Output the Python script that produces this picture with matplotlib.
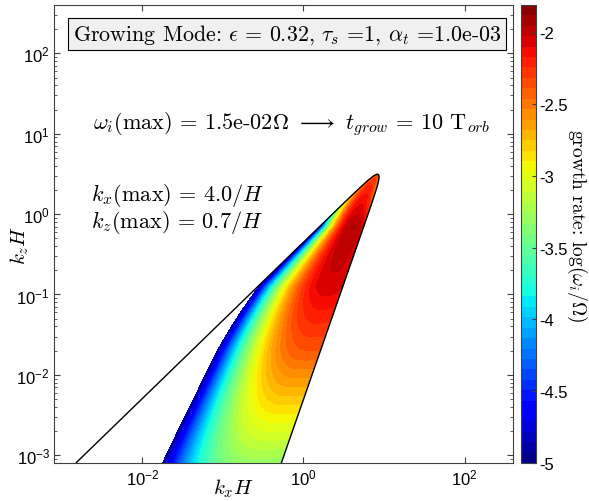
import numpy as np
import matplotlib
matplotlib.use("Agg")
import matplotlib.pyplot as plt
import matplotlib.ticker as mticker

plt.rcParams['font.family'] = ['Liberation Sans', 'DejaVu Sans']
plt.rcParams['mathtext.fontset'] = 'custom'
plt.rcParams['mathtext.rm'] = 'Liberation Sans'
plt.rcParams['mathtext.it'] = 'Liberation Sans:italic'
plt.rcParams['mathtext.bf'] = 'Liberation Sans:bold'
plt.rcParams['axes.unicode_minus'] = True

# run parameters written on the figure
eps = 0.32
tau_s = 1
alpha_t = 1.0e-3
omega_max = 1.5e-2
t_grow = 10
kx_max = 4.0
kz_max = 0.7

# axis ranges
k_lim = [8e-4, 4e2]
cbar_lim = [-5, -1.81]
cbar_ticks = [-5, -4.5, -4, -3.5, -3, -2.5, -2]

# marginal (left) boundary, (kx, kz)
left_kx = [1.55e-3, 9.35e-3, 0.42, 2.62]
left_kz = [8.0e-4, 5.0e-3, 0.189, 1.14]
# cutoff (right) boundary
right_kx = [0.543, 1.32, 3.59, 6.18]
right_kz = [8.0e-4, 1.18e-2, 0.206, 0.859]
tip_radius = 0.062  # rounding of the tip, decades

# growth rate across the unstable tongue, read along rows of constant kz
row_logkz = [-3.1, -1.72, -0.9, -0.155, 0.3, 0.55]
row_peak = [-3.3, -2.4, -2.05, -1.95, -2.2, -2.4]  # max log(omega) in row
row_fpeak = [0.88, 0.92, 0.85, 0.78, 0.6, 0.5]  # where the max sits (0=left edge, 1=right edge)
row_fall_left = [12.0, 6.0, 4.6, 5.6, 1.6, 1.0]
row_fall_right = [1.0, 0.5, 2.0, 3.0, 3.0, 3.0]

# ---------------------------------------------------------------------------
# build the growth-rate map on a log grid
# ---------------------------------------------------------------------------
lk = np.linspace(np.log10(k_lim[0]), np.log10(k_lim[1]), 800)
U, V = np.meshgrid(lk, lk)

aL, bL = np.polyfit(np.log10(left_kx), np.log10(left_kz), 1)
aR, bR = np.polyfit(np.log10(right_kx), np.log10(right_kz), 1)
dL = (aL * U + bL - V) / np.hypot(1, aL)
dR = (V - aR * U - bR) / np.hypot(1, aR)
phi = -tip_radius * np.logaddexp(-dL / tip_radius, -dR / tip_radius)

uL = (V - bL) / aL
uR = (V - bR) / aR
width = np.where(uR - uL > 1e-3, uR - uL, 1e-3)
f = (U - uL) / width

R = np.interp(V, row_logkz, row_peak)
f0 = np.interp(V, row_logkz, row_fpeak)
KL = np.interp(V, row_logkz, row_fall_left)
KR = np.interp(V, row_logkz, row_fall_right)
growth = R - KL * np.clip(f0 - f, 0, None) ** 2.5 - KR * np.clip(f - f0, 0, None) ** 2
growth = np.where(phi > 0, growth, np.nan)

KX, KZ = 10 ** U, 10 ** V

# ---------------------------------------------------------------------------
# figure
# ---------------------------------------------------------------------------
W, H = 589, 502
fig = plt.figure(figsize=(W / 100, H / 100), dpi=100)
ax = fig.add_axes([54 / W, 1 - 464 / H, 459 / W, 458 / H])
cax = fig.add_axes([520.5 / W, 1 - 464 / H, 15.5 / W, 458 / H])

levels = np.linspace(cbar_lim[0], cbar_lim[1], 45)
cf = ax.contourf(KX, KZ, growth, levels=levels, cmap='jet',
                 vmin=cbar_lim[0], vmax=cbar_lim[1])
ax.contour(KX, KZ, phi, levels=[0], colors='k', linewidths=1.0)

ax.set_xscale('log')
ax.set_yscale('log')
ax.set_xlim(k_lim)
ax.set_ylim(k_lim)
ax.set_xticks([1e-2, 1e0, 1e2])
ax.xaxis.set_minor_locator(mticker.NullLocator())
ax.yaxis.set_major_locator(mticker.LogLocator(base=10, numticks=20))
ax.yaxis.set_minor_locator(mticker.LogLocator(base=10, subs=np.arange(2, 10), numticks=20))
ax.yaxis.set_minor_formatter(mticker.NullFormatter())
ax.tick_params(which='both', direction='in', top=True, right=True,
               labelsize=12, color='#404040', pad=3)
ax.tick_params(which='major', length=4)
ax.tick_params(which='minor', length=2)
for sp in ax.spines.values():
    sp.set_color('#404040')
    sp.set_linewidth(0.8)

cb = fig.colorbar(cf, cax=cax, ticks=cbar_ticks)
cb.ax.set_yticklabels(['%g' % t for t in cbar_ticks])
cb.ax.tick_params(direction='in', length=3, labelsize=12, color='#404040', pad=2)
cb.outline.set_linewidth(0.8)
cb.outline.set_edgecolor('#404040')

serif = dict(family='cmr10', math_fontfamily='cm')

fig.text(287 / W, 1 - 35 / H,
         r'Growing Mode: $\epsilon$ = %.2f, $\tau_s$ =%d, $\alpha_t$ =%.1e' % (eps, tau_s, alpha_t),
         ha='center', va='center', fontsize=15.8,
         bbox=dict(boxstyle='square,pad=0.2', facecolor='#f0f0f0', edgecolor='k', linewidth=0.8),
         **serif)
fig.text(292 / W, 1 - 124 / H,
         r'$\omega_i$(max) = %.1e$\Omega$ $\longrightarrow$ $t_{grow}$ = %d T$_{orb}$' % (omega_max, t_grow),
         ha='center', va='center', fontsize=16, **serif)
fig.text(91 / W, 1 - 196 / H, r'$k_x$(max) = %.1f/$H$' % kx_max,
         ha='left', va='center', fontsize=16, **serif)
fig.text(91 / W, 1 - 223 / H, r'$k_z$(max) = %.1f/$H$' % kz_max,
         ha='left', va='center', fontsize=16, **serif)

fig.text(233 / W, 1 - 489 / H, r'$k_xH$', ha='center', va='center', fontsize=15, **serif)
fig.text(20 / W, 1 - 245 / H, r'$k_zH$', ha='center', va='center', fontsize=15,
         rotation=90, **serif)
fig.text(577 / W, 1 - 226 / H, r'growth rate: log($\omega_i$/$\Omega$)',
         ha='center', va='center', fontsize=14, rotation=270, **serif)

fig.savefig('out.png', dpi=100)
